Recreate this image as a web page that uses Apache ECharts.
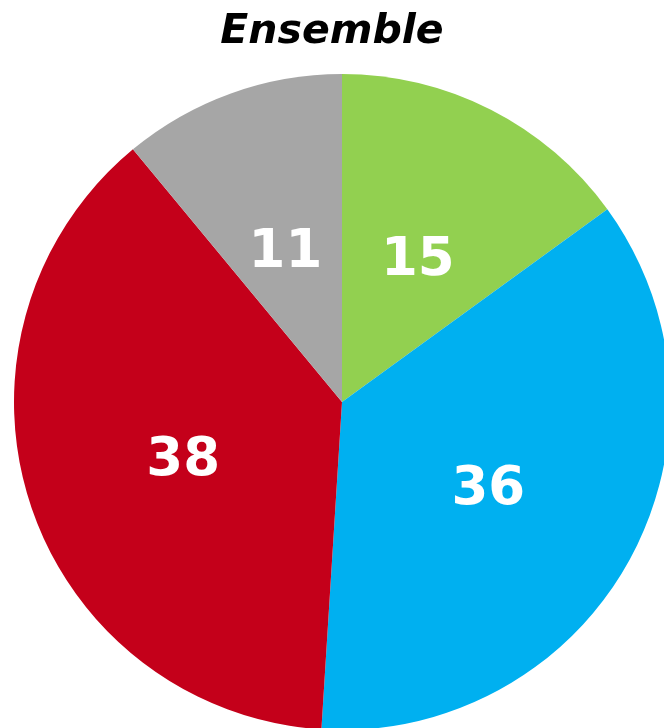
<!DOCTYPE html>
<html>
<head>
<meta charset="utf-8">
<title>Ensemble</title>
<script src="https://cdn.jsdelivr.net/npm/echarts@6/dist/echarts.min.js"></script>
<style>
	html, body { margin: 0; padding: 0; background: #fff; }
	#chart { width: 664px; height: 728px; }
</style>
</head>
<body>
<div id="chart"></div>
<script>
// données
var categories = ['Part 1', 'Part 2', 'Part 3', 'Part 4'];
var values = [15, 36, 38, 11];
var colors = ['#92D050', '#00B0F0', '#C4001A', '#A6A6A6'];

(function(){
	var myChart = echarts.init(document.getElementById('chart'));
	var pieData = [];
	for (var i = 0; i < values.length; i++) {
		pieData.push({ name: categories[i], value: values[i], itemStyle: { color: colors[i] } });
	}
	var option = {
		animation: false,
		title: {
			text: 'Ensemble', //titre
			left: 'center',
			top: 7,
			textStyle: {
				fontFamily: 'DejaVu Sans',
				fontSize: 41,
				fontWeight: 'bold',
				fontStyle: 'italic',
				color: '#000'
			}
		},
		series: [{
			type: 'pie',
			center: [342, 402],
			radius: [0, 328],
			startAngle: 90,
			clockwise: true,
			avoidLabelOverlap: false,
			label: {
				show: true,
				position: 'inside',
				formatter: '{v|{c}}',
				rich: {
					v: {
						color: '#fff',
						fontFamily: 'DejaVu Sans',
						fontWeight: 'bold',
						fontSize: 53,
						padding: [16, 0, 0, 0] // décale le texte vers le bas
					}
				}
			},
			labelLine: { show: false },
			itemStyle: { borderWidth: 0 },
			emphasis: { disabled: true },
			data: pieData
		}]
	};
	myChart.setOption(option);
})();
</script>
</body>
</html>
